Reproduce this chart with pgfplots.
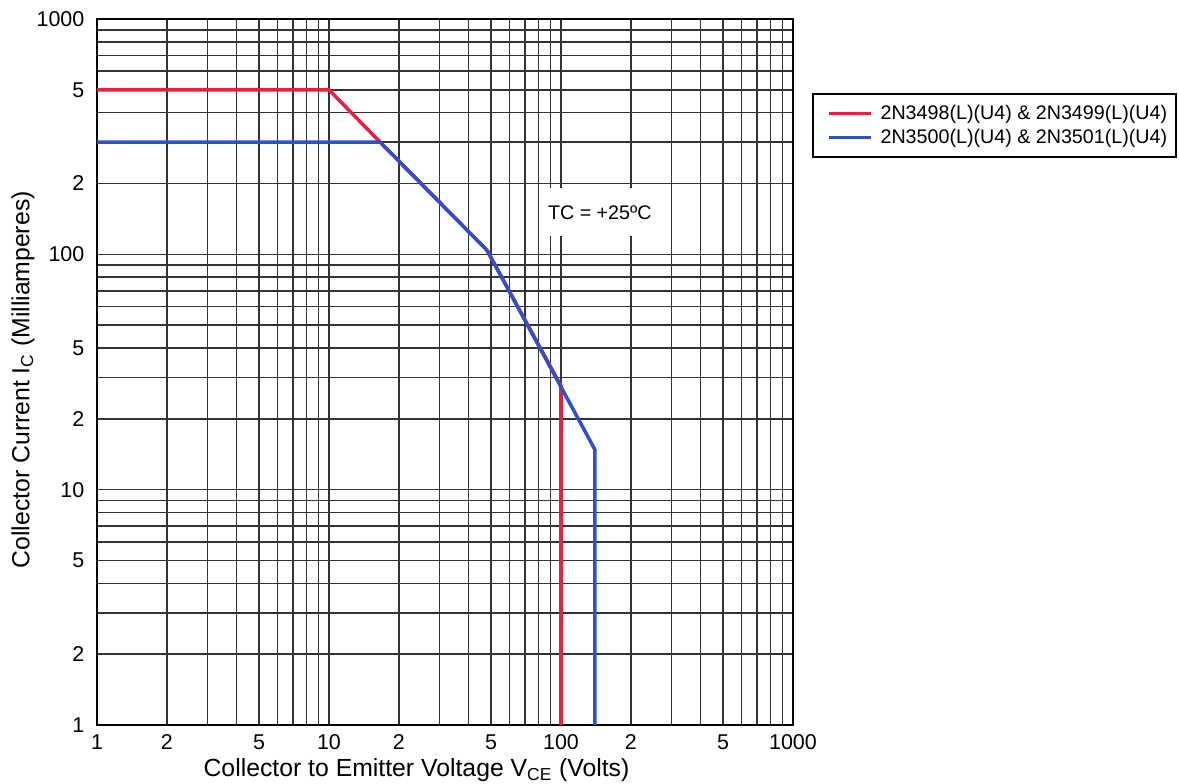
\documentclass[border=0pt]{standalone}
\usepackage{fontspec}
\setmainfont{Liberation Sans}
\usepackage{pgfplots}
\pgfplotsset{compat=1.18}
\usetikzlibrary{calc}
\definecolor{socred}{RGB}{232,32,64}
\definecolor{socblue}{RGB}{48,80,200}

\begin{document}
\begin{tikzpicture}
\begin{axis}[name=ax,
  xmode=log, ymode=log,
  scale only axis, width=139.2mm, height=141.2mm,
  xmin=1, xmax=1000, ymin=1, ymax=1000,
  xtick={1,2,5,10,20,50,100,200,500,1000},
  xticklabels={1,2,5,10,2,5,100,2,5,1000},
  ytick={1,2,5,10,20,40,100,200,500,1000},
  yticklabels={1,2,5,10,2,5,100,2,5,1000},
  minor xtick={1,2,...,9,10,20,...,90,100,200,...,900},
  minor ytick={1,2,...,9,10,20,...,90,100,200,...,900},
  grid=both,
  major grid style={black!80, line width=0.9pt},
  minor grid style={black!80, line width=0.9pt},
  major tick length=0pt, minor tick length=0pt,
  axis line style={black, line width=1pt},
  tick label style={font=\fontsize{12.2}{14}\selectfont},
  xticklabel style={yshift=-0.7mm},
  yticklabel style={xshift=-1.3mm},
  label style={font=\fontsize{14.1}{16}\selectfont},
  xlabel={Collector to Emitter Voltage V\textsubscript{CE} (Volts)},
  ylabel={Collector Current I\textsubscript{C} (Milliamperes)},
  xlabel style={at={(axis description cs:0.459,0)}, anchor=center, yshift=-9mm},
  ylabel style={at={(axis description cs:0,0.489)}, anchor=center, yshift=14.8mm},
  legend style={at={(1,1)}, anchor=north west, xshift=3.8mm, yshift=-14.8mm,
    draw=black, line width=1.2pt, font=\fontsize{11.2}{13}\selectfont,
    inner xsep=1.1mm, inner ysep=1.5mm, row sep=0mm},
  legend cell align=left,
  legend image code/.code={\path (0mm,0mm); \draw[#1] (1.8mm,0mm) -- (10.2mm,0mm); \path (11mm,0mm);},
]
\addplot[socred, line width=2pt] coordinates {(1,500) (10,500) (16.6,300) (48,104) (100,27.6) (100,1)};
\addlegendentry{2N3498(L)(U4) \& 2N3499(L)(U4)}
\addplot[socblue, line width=2pt] coordinates {(1,300) (16.6,300) (48,104) (140,14.8) (140,1)};
\addlegendentry{2N3500(L)(U4) \& 2N3501(L)(U4)}
\node[fill=white, minimum width=23mm, minimum height=9.6mm, inner sep=0pt,
  font=\fontsize{11.2}{13}\selectfont] at (axis cs:147,151) {TC = +25ºC};
\end{axis}
\pgfresetboundingbox
\path ($(ax.south west)+(-19.4mm,-11.8mm)$) rectangle ++(235.8mm,156.8mm);
\end{tikzpicture}
\end{document}
